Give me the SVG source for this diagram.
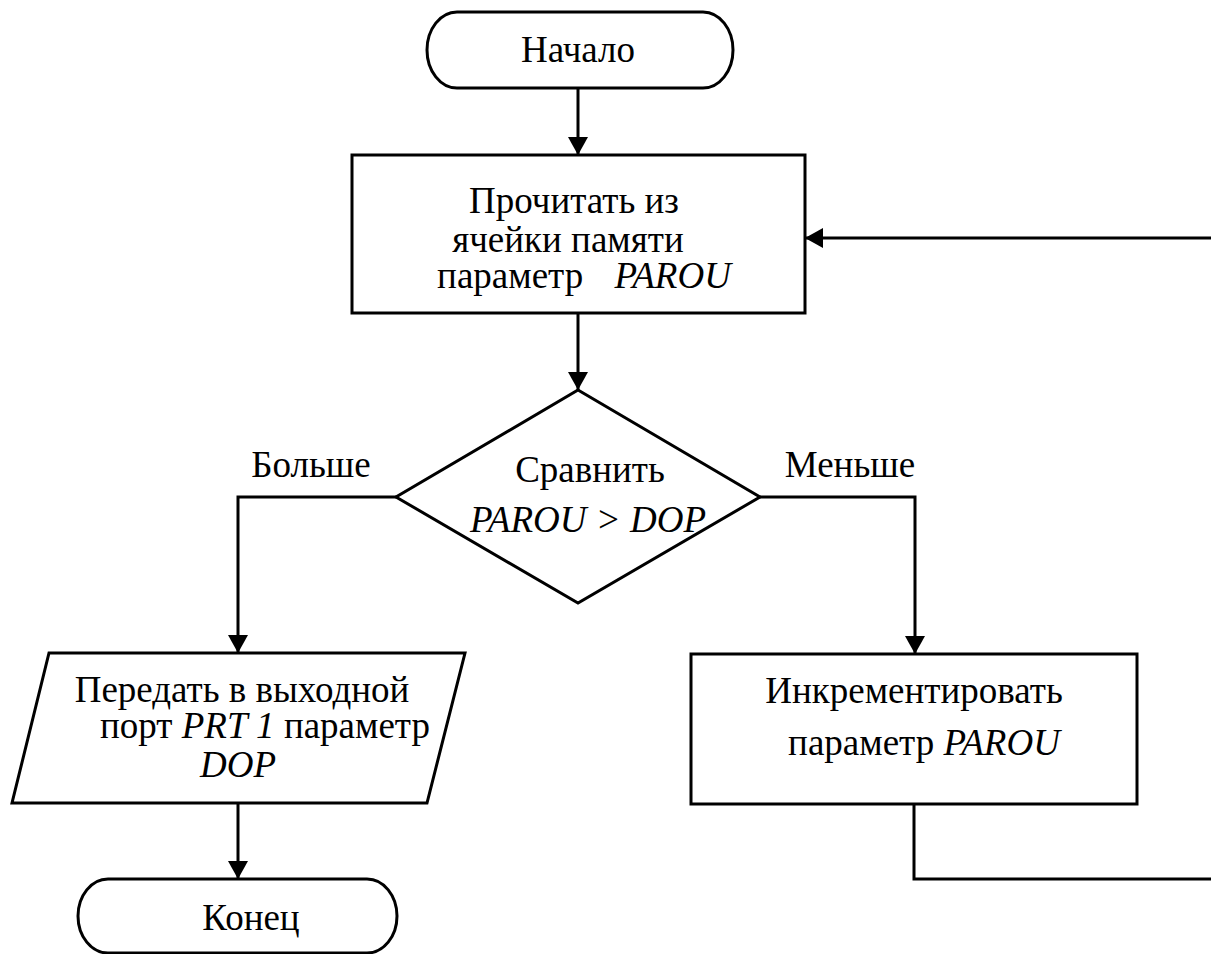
<svg xmlns="http://www.w3.org/2000/svg" width="1211" height="954" viewBox="0 0 1211 954" font-family="'Liberation Serif', 'Times New Roman', Times, serif">
<style>
.s{fill:none;stroke:#000;stroke-width:3}
.n{fill:#fff;stroke:#000;stroke-width:3}
text{font-family:'Liberation Serif','Times New Roman',Times,serif;font-size:37px;fill:#000}
.c{text-anchor:middle}
.i{font-style:italic}
</style>
<defs>
<marker id="a" markerWidth="18" markerHeight="20" refX="18" refY="10" orient="auto" markerUnits="userSpaceOnUse"><path d="M0,0 L18,10 L0,20 Z" fill="#000"/></marker>
</defs>
<rect width="1211" height="954" fill="#fff"/>
<g id="connectors">
<path class="s" d="M578,88 V155" marker-end="url(#a)"/>
<path class="s" d="M578,313 V390" marker-end="url(#a)"/>
<path class="s" d="M396,497 H238 V653" marker-end="url(#a)"/>
<path class="s" d="M760,497 H915 V654" marker-end="url(#a)"/>
<path class="s" d="M238,803 V879" marker-end="url(#a)"/>
<path class="s" d="M914,804 V879 H1225 V238 H805" marker-end="url(#a)"/>
<text x="311" y="477" class="c">Больше</text>
<text x="850" y="477" class="c">Меньше</text>
</g>
<g id="start">
<rect class="n" x="427" y="12" width="306" height="76" rx="30" ry="38"/>
<text x="578" y="62" class="c">Начало</text>
</g>
<g id="read">
<rect class="n" x="352" y="155" width="453" height="158"/>
<text x="574" y="213" class="c">Прочитать из</text>
<text x="568" y="252" class="c">ячейки памяти</text>
<text x="584" y="288" class="c">параметр <tspan dx="22" class="i">PAROU</tspan></text>
</g>
<g id="compare">
<polygon class="n" points="578,390 760,497 578,603 396,497"/>
<text x="590" y="482" class="c">Сравнить</text>
<text x="588" y="532" class="c i">PAROU &gt; DOP</text>
</g>
<g id="output">
<polygon class="n" points="49,653 465,653 427,803 12,803"/>
<text x="242" y="702" class="c">Передать в выходной</text>
<text x="265" y="738" class="c">порт <tspan class="i">PRT 1</tspan> параметр</text>
<text x="238" y="777" class="c i">DOP</text>
</g>
<g id="increment">
<rect class="n" x="691" y="654" width="446" height="150"/>
<text x="914" y="703" class="c">Инкрементировать</text>
<text x="924" y="755" class="c">параметр <tspan class="i">PAROU</tspan></text>
</g>
<g id="end">
<rect class="n" x="78" y="879" width="319" height="74" rx="30" ry="37"/>
<text x="251" y="930" class="c">Конец</text>
</g>
</svg>
